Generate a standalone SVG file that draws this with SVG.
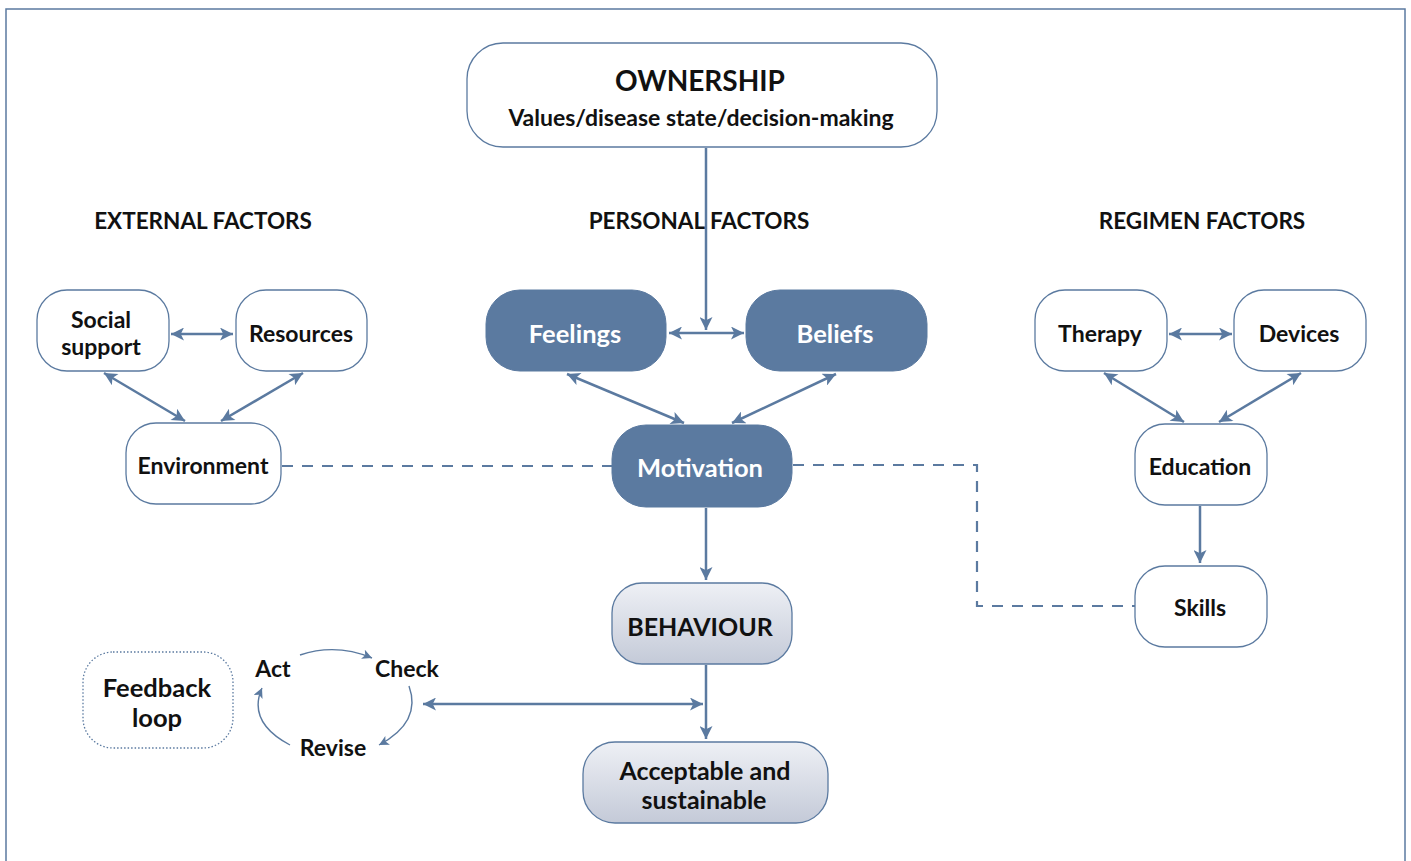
<svg xmlns="http://www.w3.org/2000/svg" width="1411" height="861" viewBox="0 0 1411 861">
<style>
.t{font-family:Lato,"Open Sans","Liberation Sans",sans-serif;font-weight:bold;fill:#111;text-anchor:middle}
.w{fill:#fff}
.box{fill:#fff;stroke:#5b7aa0;stroke-width:1.3}
.dark{fill:#5b7aa0;stroke:#5b7aa0}
.grad{fill:url(#g);stroke:#5b7aa0;stroke-width:1.3}
.ln{stroke:#5b7aa0;stroke-width:2.5;fill:none}
.dash{stroke:#5b7aa0;stroke-width:2.2;fill:none;stroke-dasharray:11 9}
.thin{stroke:#5b7aa0;stroke-width:1.4;fill:none}
</style>
<defs>
<linearGradient id="g" x1="0" y1="0" x2="0" y2="1">
<stop offset="0" stop-color="#eef0f5"/>
<stop offset="1" stop-color="#c4cad8"/>
</linearGradient>
<marker id="a" viewBox="0 0 10 10" refX="10" refY="5" markerWidth="6.4" markerHeight="5.2" markerUnits="strokeWidth" orient="auto-start-reverse">
<path d="M0,0 L10,5 L0,10 L2.5,5 Z" fill="#5b7aa0"/>
</marker>
<marker id="s" viewBox="0 0 10 10" refX="10" refY="5" markerWidth="8" markerHeight="7" markerUnits="strokeWidth" orient="auto">
<path d="M0,0 L10,5 L0,10 L2.5,5 Z" fill="#5b7aa0"/>
</marker>
</defs>
<rect x="6" y="9" width="1399" height="870" fill="none" stroke="#5b7aa0" stroke-width="1.5"/>

<g id="headers">
<text class="t" x="203" y="229" font-size="22.5">EXTERNAL FACTORS</text>
<text class="t" x="699" y="229" font-size="22.5">PERSONAL FACTORS</text>
<text class="t" x="1202" y="229" font-size="22.5">REGIMEN FACTORS</text>
</g>

<g id="connectors">
<path class="ln" d="M706,148 V330" marker-end="url(#a)"/>
<path class="ln" d="M669,333 H744" marker-start="url(#a)" marker-end="url(#a)"/>
<path class="ln" d="M567,374 L684,423" marker-start="url(#a)" marker-end="url(#a)"/>
<path class="ln" d="M836,374 L732,423" marker-start="url(#a)" marker-end="url(#a)"/>
<path class="ln" d="M171,334 H233" marker-start="url(#a)" marker-end="url(#a)"/>
<path class="ln" d="M104,373 L185,421" marker-start="url(#a)" marker-end="url(#a)"/>
<path class="ln" d="M303,373 L221,421" marker-start="url(#a)" marker-end="url(#a)"/>
<path class="ln" d="M1169,334 H1232" marker-start="url(#a)" marker-end="url(#a)"/>
<path class="ln" d="M1104,373 L1184,422" marker-start="url(#a)" marker-end="url(#a)"/>
<path class="ln" d="M1301,373 L1219,422" marker-start="url(#a)" marker-end="url(#a)"/>
<path class="ln" d="M1200,506 V563" marker-end="url(#a)"/>
<path class="ln" d="M706,508 V580" marker-end="url(#a)"/>
<path class="ln" d="M706,665 V739" marker-end="url(#a)"/>
<path class="ln" d="M423,704 H703" marker-start="url(#a)" marker-end="url(#a)"/>
<path class="dash" d="M282,466 H612"/>
<path class="dash" d="M793,465 H977 V606 H1135"/>
<path class="thin" d="M300,655 Q336,643 372,658" marker-end="url(#s)"/>
<path class="thin" d="M409,686 Q422,722 379,745" marker-end="url(#s)"/>
<path class="thin" d="M290,745 Q247,722 262,688" marker-end="url(#s)"/>
</g>

<g id="ownership">
<rect class="box" x="467" y="43" width="470" height="104" rx="36"/>
<text class="t" x="700" y="91" font-size="28">OWNERSHIP</text>
<text class="t" x="701" y="126" font-size="23">Values/disease state/decision-making</text>
</g>
<g id="feelings">
<rect class="dark" x="486" y="290" width="180" height="81" rx="34"/>
<text class="t w" x="575" y="343" font-size="25.5">Feelings</text>
</g>
<g id="beliefs">
<rect class="dark" x="746" y="290" width="181" height="81" rx="34"/>
<text class="t w" x="835" y="343" font-size="25.5">Beliefs</text>
</g>
<g id="motivation">
<rect class="dark" x="612" y="425" width="180" height="82" rx="34"/>
<text class="t w" x="700" y="477" font-size="25.5">Motivation</text>
</g>
<g id="social">
<rect class="box" x="37" y="290" width="132" height="81" rx="30"/>
<text class="t" x="101" y="328" font-size="23">Social</text>
<text class="t" x="101" y="355" font-size="23">support</text>
</g>
<g id="resources">
<rect class="box" x="236" y="290" width="131" height="81" rx="30"/>
<text class="t" x="301" y="342" font-size="23">Resources</text>
</g>
<g id="environment">
<rect class="box" x="126" y="423" width="155" height="81" rx="30"/>
<text class="t" x="203" y="474" font-size="23">Environment</text>
</g>
<g id="therapy">
<rect class="box" x="1035" y="290" width="132" height="81" rx="30"/>
<text class="t" x="1100" y="342" font-size="23">Therapy</text>
</g>
<g id="devices">
<rect class="box" x="1234" y="290" width="132" height="81" rx="30"/>
<text class="t" x="1299" y="342" font-size="23">Devices</text>
</g>
<g id="education">
<rect class="box" x="1135" y="424" width="132" height="81" rx="30"/>
<text class="t" x="1200" y="475" font-size="23">Education</text>
</g>
<g id="skills">
<rect class="box" x="1135" y="566" width="132" height="81" rx="30"/>
<text class="t" x="1200" y="616" font-size="23">Skills</text>
</g>
<g id="behaviour">
<rect class="grad" x="612" y="583" width="180" height="81" rx="30"/>
<text class="t" x="700" y="636" font-size="25">BEHAVIOUR</text>
</g>
<g id="acceptable">
<rect class="grad" x="583" y="742" width="245" height="81" rx="32"/>
<text class="t" x="705" y="780" font-size="25">Acceptable and</text>
<text class="t" x="704" y="809" font-size="25">sustainable</text>
</g>
<g id="feedback">
<rect x="83" y="652" width="150" height="96" rx="30" fill="#fff" stroke="#5b7aa0" stroke-width="1.3" stroke-dasharray="1.5 2"/>
<text class="t" x="157" y="697" font-size="25.5">Feedback</text>
<text class="t" x="157" y="727" font-size="25.5">loop</text>
</g>
<g id="cycle">
<text class="t" x="273" y="677" font-size="23">Act</text>
<text class="t" x="407" y="677" font-size="23">Check</text>
<text class="t" x="333" y="756" font-size="23">Revise</text>
</g>
</svg>
